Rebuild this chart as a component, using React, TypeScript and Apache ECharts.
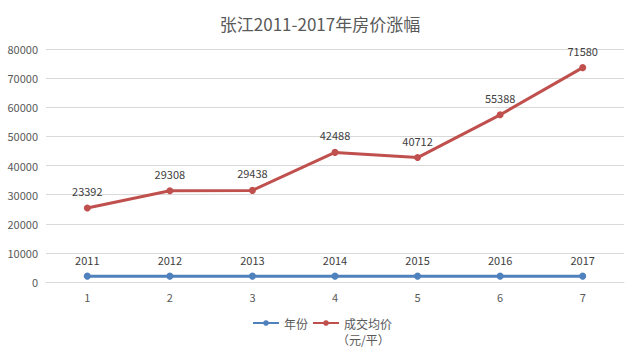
import React, { useEffect, useRef } from "react";
import * as echarts from "echarts";

const categories = ["1", "2", "3", "4", "5", "6", "7"];
const years = [2011, 2012, 2013, 2014, 2015, 2016, 2017];
const prices = [23392, 29308, 29438, 42488, 40712, 55388, 71580];
const titleText = "张江2011-2017年房价涨幅";
const yearName = "年份";
const priceName = "成交均价";
const priceUnit = "（元/平）";

export default function App() {
  const ref = useRef<HTMLDivElement>(null);
  useEffect(() => {
    if (!ref.current) return;
    const chart = echarts.init(ref.current, undefined, { renderer: "svg" });
    const font = "'Noto Sans CJK SC', 'Noto Sans', sans-serif";
    chart.setOption({
      animation: false,
      backgroundColor: "#ffffff",
      textStyle: { fontFamily: font },
      title: {
        text: titleText,
        left: "center",
        top: 10,
        textStyle: { fontSize: 17, fontWeight: "normal", color: "#595959", fontFamily: font },
      },
      grid: { left: 46, right: 16, top: 49, bottom: 75, containLabel: false },
      xAxis: {
        type: "category",
        data: categories,
        boundaryGap: true,
        axisLine: { show: true, lineStyle: { color: "#d9d9d9" } },
        axisTick: { show: false },
        axisLabel: { color: "#595959", fontSize: 11, margin: 9, fontFamily: font },
      },
      yAxis: {
        type: "value",
        min: 0,
        max: 80000,
        interval: 10000,
        axisLine: { show: false },
        axisTick: { show: false },
        axisLabel: {
          color: "#595959",
          fontSize: 11,
          margin: 8,
          fontFamily: font,
          formatter: (v: number) => String(v),
        },
        splitLine: { lineStyle: { color: "#d9d9d9", width: 1 } },
      },
      legend: {
        top: 315,
        left: 252,
        itemWidth: 26,
        itemHeight: 7,
        itemGap: 4,
        padding: 0,
        textStyle: { color: "#595959", fontSize: 12, fontFamily: font, lineHeight: 16 },
        data: [yearName, priceName],
      },
      graphic: [
        {
          type: "text",
          left: 337,
          top: 332,
          style: { text: priceUnit, fill: "#595959", fontSize: 12, fontFamily: font, lineHeight: 14 },
        },
      ],
      series: [
        {
          name: yearName,
          type: "line",
          stack: "total",
          data: years,
          symbol: "circle",
          symbolSize: 7,
          itemStyle: { color: "#4F81BD" },
          lineStyle: { color: "#4F81BD", width: 3 },
          label: { show: true, position: "top", distance: 7, color: "#404040", fontSize: 11, fontFamily: font },
        },
        {
          name: priceName,
          type: "line",
          stack: "total",
          data: prices,
          symbol: "circle",
          symbolSize: 7,
          itemStyle: { color: "#C0504D" },
          lineStyle: { color: "#C0504D", width: 3 },
          label: { show: true, position: "top", distance: 8, color: "#404040", fontSize: 11, fontFamily: font },
        },
      ],
    });
    return () => chart.dispose();
  }, []);
  return (
    <div
      ref={ref}
      style={{ position: "fixed", left: 0, top: 0, width: 640, height: 357 }}
    />
  );
}
